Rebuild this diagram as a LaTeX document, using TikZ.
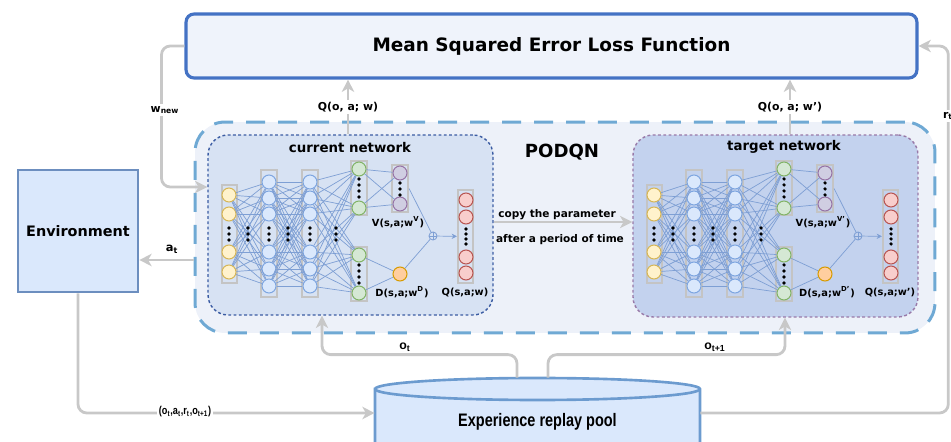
\documentclass[tikz,border=0pt]{standalone}
\usepackage{fontspec}
\setmainfont{DejaVu Sans}
\newfontfamily\arialfont{Liberation Sans}
\usepackage{xcolor}
\usepackage{tikz}
\usetikzlibrary{arrows.meta}

\definecolor{flowgray}{HTML}{C8C8C8}
\definecolor{msedraw}{HTML}{4472C4}
\definecolor{msefill}{HTML}{EFF3FB}
\definecolor{podqndash}{HTML}{6FA9D4}
\definecolor{podqnfill}{HTML}{EDF1F9}
\definecolor{curfill}{HTML}{D7E2F3}
\definecolor{curdraw}{HTML}{3B5CA3}
\definecolor{tgtfill}{HTML}{C3D2EE}
\definecolor{tgtdraw}{HTML}{9879A8}
\definecolor{envfill}{HTML}{DAE8FC}
\definecolor{envdraw}{HTML}{6C8EBF}
\definecolor{pooldraw}{HTML}{6C9BCF}
\definecolor{netline}{HTML}{7E9FD4}
\definecolor{boxgray}{HTML}{C4C4C4}
\definecolor{inFill}{HTML}{FFF2CC}
\definecolor{inDraw}{HTML}{D6B656}
\definecolor{hidFill}{HTML}{DAE8FC}
\definecolor{hidDraw}{HTML}{7EA6E0}
\definecolor{grnFill}{HTML}{D5E8D4}
\definecolor{grnDraw}{HTML}{82B366}
\definecolor{purFill}{HTML}{D0CEE2}
\definecolor{purDraw}{HTML}{9673A6}
\definecolor{orgFill}{HTML}{FFCE9F}
\definecolor{orgDraw}{HTML}{D79B00}
\definecolor{redFill}{HTML}{F8CECC}
\definecolor{redDraw}{HTML}{B85450}

\tikzset{
  flow/.style={draw=flowgray, line width=1.6pt, rounded corners=5pt,
    -{Stealth[length=7pt,width=7pt,inset=2pt]}},
  flowlab/.style={fill=white, inner sep=1pt, font=\bfseries\fontsize{6.2}{7}\selectfont},
  neuron/.style={circle, minimum size=0.28cm, inner sep=0pt, line width=0.6pt},
  layerbox/.style={draw=boxgray, line width=1.2pt, inner sep=0pt},
  conn/.style={draw=netline, line width=0.4pt},
  netlab/.style={font=\bfseries\fontsize{5.6}{6}\selectfont},
}

% one dueling network, #1 prefix, #2 x shift, #3 #4 #5 labels
\newcommand{\qnet}[5]{%
\begin{scope}[shift={(#2,0)}]
  \node[layerbox, minimum width=0.30cm, minimum height=1.96cm] (#1inl) at (229.5,234) {};
  \node[layerbox, minimum width=0.32cm, minimum height=2.54cm] (#1al) at (269,233.5) {};
  \node[layerbox, minimum width=0.32cm, minimum height=2.54cm] (#1bl) at (310,233.5) {};
  \node[layerbox, minimum width=0.32cm, minimum height=1.08cm] (#1gtl) at (359,188) {};
  \node[layerbox, minimum width=0.32cm, minimum height=1.08cm] (#1gbl) at (359,274) {};
  \node[layerbox, minimum width=0.32cm, minimum height=0.94cm] (#1vl) at (400,188.5) {};
  \node[layerbox, minimum width=0.30cm, minimum height=1.86cm] (#1ql) at (465.5,236.5) {};
  \foreach \k/\y in {1/195,2/214,3/252,4/272}
    \node[neuron, fill=inFill, draw=inDraw] (#1i\k) at (229,\y) {};
  \foreach \k/\y in {1/182,2/198,3/214,4/252,5/269,6/286} {
    \node[neuron, fill=hidFill, draw=hidDraw] (#1a\k) at (269,\y) {};
    \node[neuron, fill=hidFill, draw=hidDraw] (#1b\k) at (310,\y) {};
  }
  \foreach \k/\y in {1/169,2/208,3/255,4/293}
    \node[neuron, fill=grnFill, draw=grnDraw] (#1g\k) at (359,\y) {};
  \node[neuron, fill=purFill, draw=purDraw] (#1v1) at (400,173) {};
  \node[neuron, fill=purFill, draw=purDraw] (#1v2) at (400,204) {};
  \node[neuron, fill=orgFill, draw=orgDraw] (#1d) at (400,274) {};
  \node[circle, draw=netline, line width=0.5pt, minimum size=0.16cm, inner sep=0pt] (#1p) at (433,236) {};
  \draw[conn] (#1p.north) -- (#1p.south) (#1p.west) -- (#1p.east);
  \foreach \k/\y in {1/200,2/217,3/257,4/273}
    \node[neuron, fill=redFill, draw=redDraw] (#1q\k) at (466,\y) {};
  % connections
  \foreach \i in {1,...,4} \foreach \j in {1,...,6} \draw[conn] (#1i\i) -- (#1a\j);
  \foreach \i in {1,...,6} \foreach \j in {1,...,6} \draw[conn] (#1a\i) -- (#1b\j);
  \foreach \i in {1,...,6} \foreach \j in {1,...,4} \draw[conn] (#1b\i) -- (#1g\j);
  \foreach \i in {1,2} \foreach \j in {1,2} \draw[conn] (#1g\i) -- (#1v\j);
  \foreach \i in {3,4} \draw[conn] (#1g\i) -- (#1d);
  \draw[conn] (#1vl.east) -- (#1p);
  \draw[conn] (#1d) -- (#1p);
  \draw[conn, -{Stealth[length=3pt,width=3pt]}] (#1p) -- (#1ql);
  % dots
  \foreach \x in {229,248,269,288,310,336} \foreach \y in {228,234,240}
    \fill (\x,\y) circle (1pt);
  \foreach \y in {179,185,191,197,265,271,277,283} \fill (359,\y) circle (1pt);
  \foreach \y in {183,189,195} \fill (400,\y) circle (1pt);
  \foreach \y in {229,234,239,244} \fill (466,\y) circle (1pt);
  % labels
  \node[netlab] at (398,222) {#3};
  \node[netlab] at (402,292) {#4};
  \node[netlab] at (465,292) {#5};
\end{scope}}

\begin{document}
\begin{tikzpicture}[x=0.02cm, y=-0.02cm]
  \useasboundingbox (0,0) rectangle (951,442);

  % boxes
  \node[draw=msedraw, fill=msefill, line width=1.8pt, rounded corners=0.16cm,
        minimum width=14.62cm, minimum height=1.28cm,
        font=\bfseries\fontsize{10.5}{12}\selectfont] (mse) at (551.5,46)
        {Mean Squared Error Loss Function};
  \node[draw=podqndash, fill=podqnfill, line width=1.7pt, rounded corners=0.6cm,
        dash pattern=on 0.38cm off 0.26cm,
        minimum width=14.8cm, minimum height=4.22cm] (podqn) at (565,227.5) {};
  \node[font=\bfseries\fontsize{10.3}{12}\selectfont] at (562,152) {PODQN};
  \node[draw=curdraw, fill=curfill, line width=0.8pt, rounded corners=0.4cm,
        dash pattern=on 1.6pt off 1.4pt,
        minimum width=5.7cm, minimum height=3.6cm] (cur) at (350.5,225) {};
  \node[font=\bfseries\fontsize{7.6}{9}\selectfont] at (350,148) {current network};
  \node[draw=tgtdraw, fill=tgtfill, line width=0.8pt, rounded corners=0.4cm,
        dash pattern=on 1.6pt off 1.4pt,
        minimum width=5.7cm, minimum height=3.64cm] (tgt) at (775.5,226) {};
  \node[font=\bfseries\fontsize{7.6}{9}\selectfont] at (784,147) {target network};
  \node[draw=envdraw, fill=envfill, line width=1.5pt,
        minimum width=2.4cm, minimum height=2.44cm,
        font=\bfseries\fontsize{8.2}{10}\selectfont] (env) at (78,231) {Environment};

  % replay pool
  \draw[draw=pooldraw, fill=envfill, line width=1.5pt]
    (375,389) -- (375,460) -- (700,460) -- (700,389)
    arc[start angle=0, end angle=180, x radius=3.25cm, y radius=0.22cm] -- cycle;
  \draw[draw=pooldraw, line width=1.5pt]
    (375,389) arc[start angle=180, end angle=360, x radius=3.25cm, y radius=0.22cm];
  \node[minimum width=6.5cm, minimum height=1.4cm, inner sep=0pt] (pool) at (537.5,413) {};
  \node[font=\arialfont\bfseries\fontsize{10.3}{12}\selectfont] (poolname) at (537.5,422)
    {\scalebox{0.8}[1]{Experience replay pool}};

  % networks
  \qnet{c}{0}{V(s,a;w\textsuperscript{V})}{D(s,a;w\textsuperscript{D})}{Q(s,a;w)}
  \qnet{t}{425}{V(s,a;w\textsuperscript{V'})}{D(s,a;w\textsuperscript{D'})}{Q(s,a;w')}

  % connectors
  \draw[flow] (mse.west) -- ++(-23,0) |- (cur.west |- 0,187);
  \node[flowlab] at (165,110) {w\textsubscript{new}};
  \draw[flow] (cur.north -| 348,0) -- (mse.south -| 348,0);
  \node[flowlab] at (348,107) {Q(o, a; w)};
  \draw[flow] (tgt.north -| 790,0) -- (mse.south -| 790,0);
  \node[flowlab] at (790,107) {Q(o, a; w')};
  \draw[flow] (podqn.west |- 0,260) -- (env.east |- 0,260);
  \node[font=\bfseries\fontsize{6.5}{7}\selectfont] at (172,249) {a\textsubscript{t}};
  \draw[flow] (cur.east |- 0,222) -- (tgt.west |- 0,222);
  \node[font=\bfseries\fontsize{6}{7}\selectfont] at (557,215) {copy the parameter};
  \node[font=\bfseries\fontsize{6}{7}\selectfont] at (560,240) {after a period of time};
  \draw[flow] (env.south) |- (pool.west);
  \node[fill=white, inner sep=1pt, font=\arialfont\bfseries\fontsize{6.5}{7}\selectfont] at (185,412)
    {\scalebox{0.8}[1]{(o\textsubscript{t},a\textsubscript{t},r\textsubscript{t},o\textsubscript{t+1})}};
  \draw[flow] (pool.east) -- ++(248,0) |- (mse.east);
  \node[flowlab] at (948,116) {r\textsubscript{t}};
  \draw[flow] (pool.north -| 517,0) -- ++(0,-23) -| (cur.south -| 322,0);
  \node[font=\arialfont\bfseries\fontsize{7}{8}\selectfont] at (405,347) {o\textsubscript{t}};
  \draw[flow] (pool.north -| 548,0) -- ++(0,-23) -| (tgt.south -| 785,0);
  \node[font=\arialfont\bfseries\fontsize{7}{8}\selectfont] at (715,347) {o\textsubscript{t+1}};
\end{tikzpicture}
\end{document}
